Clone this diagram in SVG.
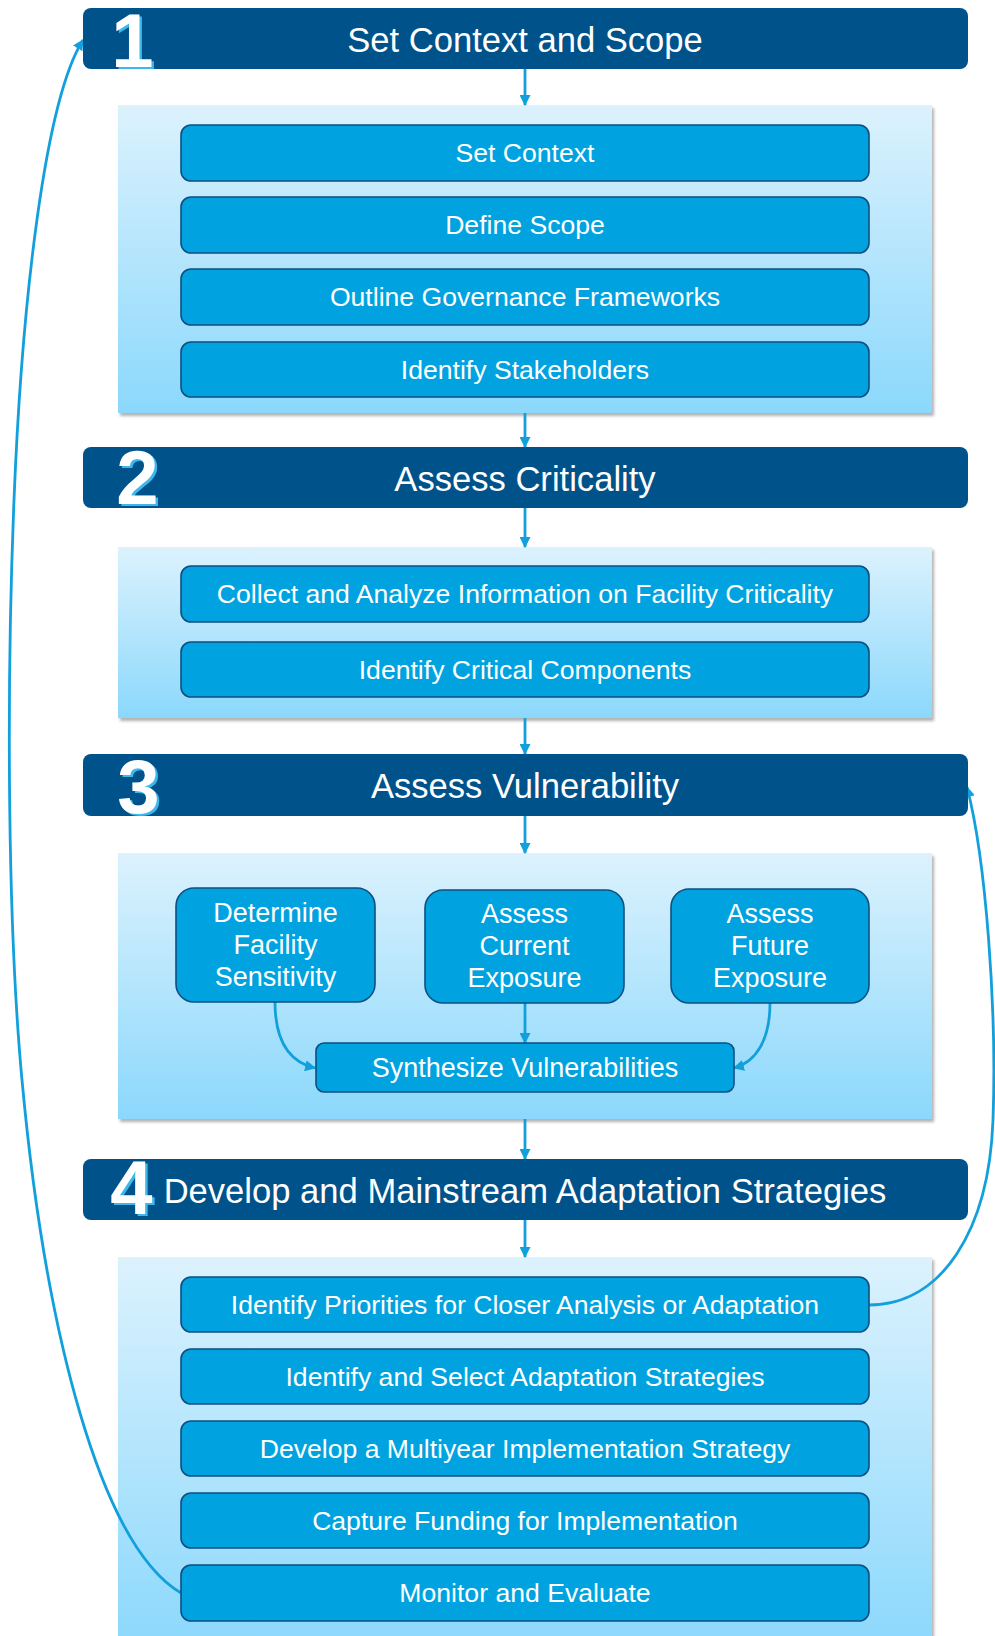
<svg xmlns="http://www.w3.org/2000/svg" width="995" height="1636" viewBox="0 0 995 1636">
<defs>
<linearGradient id="lb" x1="0" y1="0" x2="0" y2="1">
<stop offset="0" stop-color="#DCF2FD"/>
<stop offset="1" stop-color="#8BD8FC"/>
</linearGradient>
<filter id="sh" x="-5%" y="-5%" width="110%" height="110%">
<feDropShadow dx="2" dy="3" stdDeviation="1.8" flood-color="#000" flood-opacity="0.3"/>
</filter>
<marker id="ah" viewBox="0 0 10 10" refX="9" refY="5" markerWidth="11" markerHeight="11" markerUnits="userSpaceOnUse" orient="auto">
<path d="M0,0 L10,5 L0,10 z" fill="#12A0DC"/>
</marker>
</defs>
<style>
.hdr{fill:#00528A;}
.lbox{fill:url(#lb);filter:url(#sh);}
.ibox{fill:#00A3E0;stroke:#0D4F80;stroke-width:1.6;}
.ttl{font-family:"Liberation Sans",Arial,sans-serif;font-size:34.6px;fill:#fff;text-anchor:middle;}
.txt{font-family:"Liberation Sans",Arial,sans-serif;font-size:26.6px;fill:#fff;text-anchor:middle;}
.txt3{font-family:"Liberation Sans",Arial,sans-serif;font-size:27px;fill:#fff;text-anchor:middle;}
.num{font-family:"Liberation Sans",Arial,sans-serif;font-size:76px;font-weight:bold;text-anchor:middle;}
.nsh{fill:#3DB8EC;}
.nfg{fill:#fff;}
.con{fill:none;stroke:#12A0DC;stroke-width:2.8;}
</style>

<g id="container1"><rect class="lbox" x="118" y="105" width="814" height="308"/></g>
<g id="container2"><rect class="lbox" x="118" y="547" width="814" height="171"/></g>
<g id="container3"><rect class="lbox" x="118" y="853" width="814" height="266"/></g>
<g id="container4"><rect class="lbox" x="118" y="1257" width="814" height="390"/></g>

<g id="connectors">
<path class="con" d="M525,69 L525,105" marker-end="url(#ah)"/>
<path class="con" d="M525,413 L525,447" marker-end="url(#ah)"/>
<path class="con" d="M525,508 L525,547" marker-end="url(#ah)"/>
<path class="con" d="M525,718 L525,754" marker-end="url(#ah)"/>
<path class="con" d="M525,816 L525,853" marker-end="url(#ah)"/>
<path class="con" d="M525,1119 L525,1159" marker-end="url(#ah)"/>
<path class="con" d="M525,1220 L525,1257" marker-end="url(#ah)"/>
<path class="con" d="M525,1003 L525,1043" marker-end="url(#ah)"/>
<path class="con" d="M275,1002 C275,1040 289,1062 315,1068" marker-end="url(#ah)"/>
<path class="con" d="M770,1003 C770,1040 756,1062 734,1068" marker-end="url(#ah)"/>
<path class="con" d="M181,1593 C100,1545 45,1330 22,1080 C8,930 6,700 14,500 C22,300 45,100 83,40" marker-end="url(#ah)"/>
<path class="con" d="M869,1305 C942,1305 989,1230 993,1120 C997,1010 986,860 967,787" marker-end="url(#ah)"/>
</g>

<g id="step1">
<rect class="hdr" x="83" y="8" width="885" height="61" rx="8"/>
<text class="num nsh" x="135" y="69">1</text>
<text class="num nfg" x="132.5" y="66.5">1</text>
<text class="ttl" x="525" y="51.5">Set Context and Scope</text>
</g>
<g id="set-context"><rect class="ibox" x="181" y="125" width="688" height="56" rx="10"/><text class="txt" x="525" y="162">Set Context</text></g>
<g id="define-scope"><rect class="ibox" x="181" y="197" width="688" height="56" rx="10"/><text class="txt" x="525" y="234">Define Scope</text></g>
<g id="governance"><rect class="ibox" x="181" y="269" width="688" height="56" rx="10"/><text class="txt" x="525" y="306">Outline Governance Frameworks</text></g>
<g id="stakeholders"><rect class="ibox" x="181" y="342" width="688" height="55" rx="10"/><text class="txt" x="525" y="379">Identify Stakeholders</text></g>

<g id="step2">
<rect class="hdr" x="83" y="447" width="885" height="61" rx="8"/>
<text class="num nsh" x="140" y="506">2</text>
<text class="num nfg" x="137.5" y="503.5">2</text>
<text class="ttl" x="525" y="490.5">Assess Criticality</text>
</g>
<g id="collect"><rect class="ibox" x="181" y="566" width="688" height="56" rx="10"/><text class="txt" x="525" y="603">Collect and Analyze Information on Facility Criticality</text></g>
<g id="critical-components"><rect class="ibox" x="181" y="642" width="688" height="55" rx="10"/><text class="txt" x="525" y="678.5">Identify Critical Components</text></g>

<g id="step3">
<rect class="hdr" x="83" y="754" width="885" height="62" rx="8"/>
<text class="num nsh" x="141" y="815">3</text>
<text class="num nfg" x="138.5" y="812.5">3</text>
<text class="ttl" x="525" y="798">Assess Vulnerability</text>
</g>
<g id="sensitivity"><rect class="ibox" x="176" y="888" width="199" height="114" rx="18"/><text class="txt3" x="275.5" y="922">Determine</text><text class="txt3" x="275.5" y="954">Facility</text><text class="txt3" x="275.5" y="986">Sensitivity</text></g>
<g id="current-exposure"><rect class="ibox" x="425" y="890" width="199" height="113" rx="18"/><text class="txt3" x="524.5" y="923">Assess</text><text class="txt3" x="524.5" y="955">Current</text><text class="txt3" x="524.5" y="987">Exposure</text></g>
<g id="future-exposure"><rect class="ibox" x="671" y="889" width="198" height="114" rx="18"/><text class="txt3" x="770" y="923">Assess</text><text class="txt3" x="770" y="955">Future</text><text class="txt3" x="770" y="987">Exposure</text></g>
<g id="synthesize"><rect class="ibox" x="316" y="1043" width="418" height="49" rx="8"/><text class="txt3" x="525" y="1077">Synthesize Vulnerabilities</text></g>

<g id="step4">
<rect class="hdr" x="83" y="1159" width="885" height="61" rx="8"/>
<text class="num nsh" x="134" y="1216">4</text>
<text class="num nfg" x="131.5" y="1213.5">4</text>
<text class="ttl" x="525" y="1202.5">Develop and Mainstream Adaptation Strategies</text>
</g>
<g id="priorities"><rect class="ibox" x="181" y="1277" width="688" height="55" rx="10"/><text class="txt" x="525" y="1313.5">Identify Priorities for Closer Analysis or Adaptation</text></g>
<g id="select-strategies"><rect class="ibox" x="181" y="1349" width="688" height="55" rx="10"/><text class="txt" x="525" y="1385.5">Identify and Select Adaptation Strategies</text></g>
<g id="multiyear"><rect class="ibox" x="181" y="1421" width="688" height="55" rx="10"/><text class="txt" x="525" y="1457.5">Develop a Multiyear Implementation Strategy</text></g>
<g id="funding"><rect class="ibox" x="181" y="1493" width="688" height="55" rx="10"/><text class="txt" x="525" y="1529.5">Capture Funding for Implementation</text></g>
<g id="monitor"><rect class="ibox" x="181" y="1565" width="688" height="56" rx="10"/><text class="txt" x="525" y="1602">Monitor and Evaluate</text></g>
</svg>
